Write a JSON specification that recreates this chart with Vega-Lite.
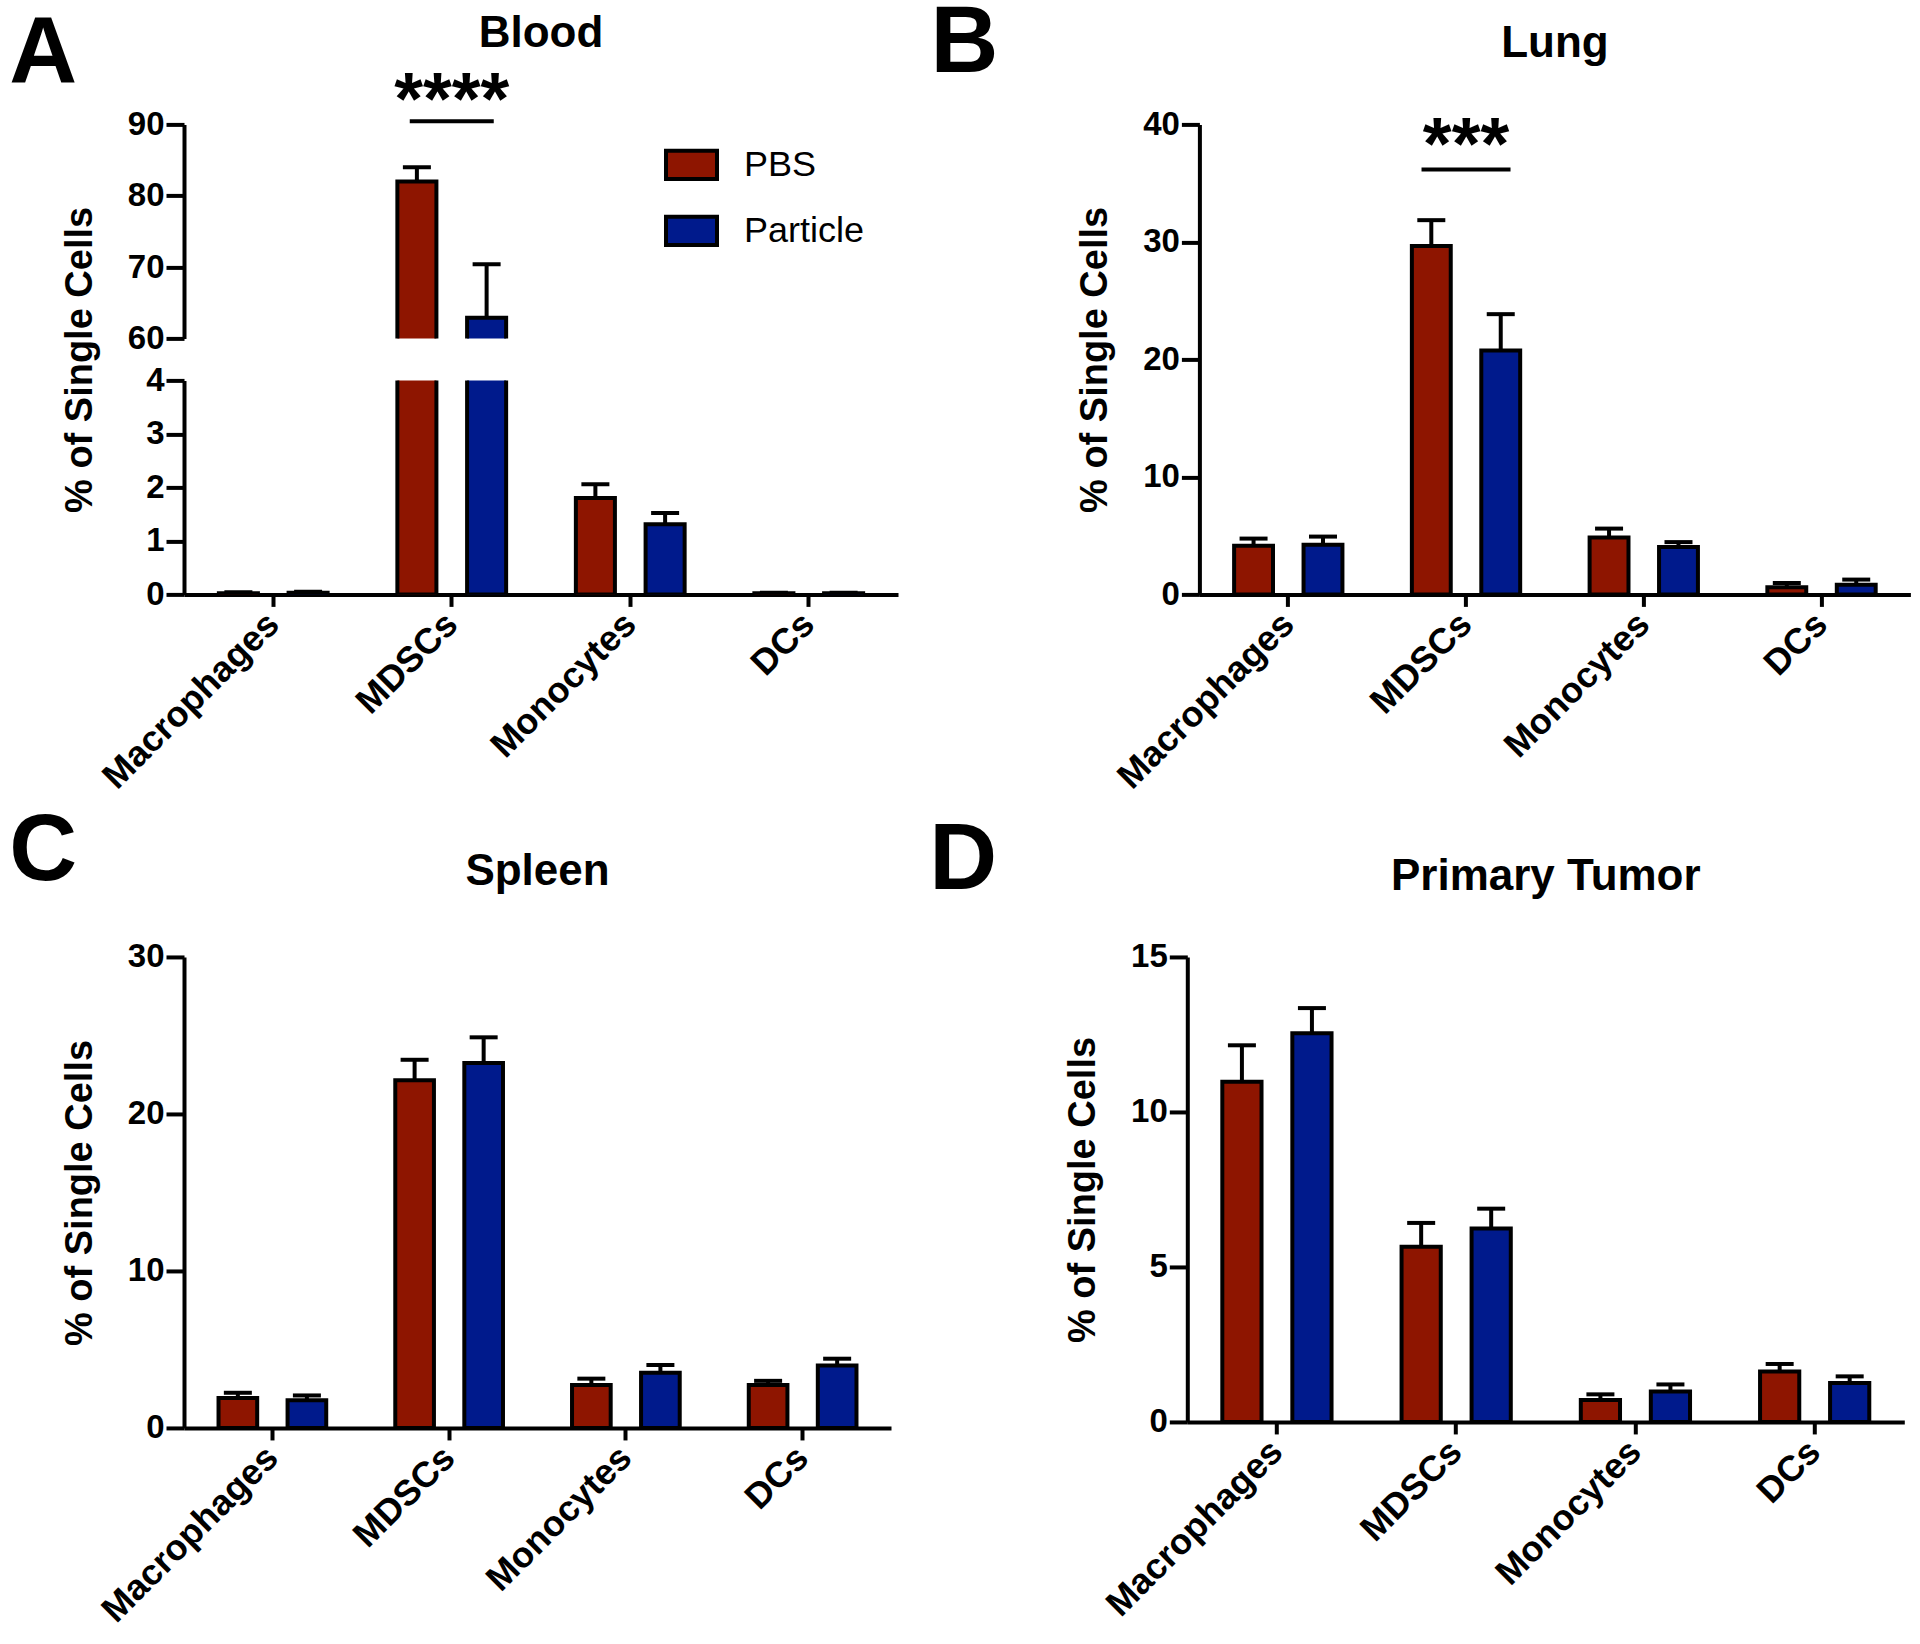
{
  "$schema": "https://vega.github.io/schema/vega-lite/v6.json",
  "padding": {"left": 9, "top": -2.6, "right": 0, "bottom": 0},
  "autosize": {"type": "pad"},
  "config": {
    "font": "Liberation Sans",
    "view": {"stroke": null},
    "axis": {"grid": false, "domainColor": "black", "domainWidth": 4, "tickColor": "black", "tickWidth": 4, "labelColor": "black", "labelFontSize": 33, "labelFontWeight": "bold", "titleColor": "black", "titleFontSize": 38, "titleFontWeight": "bold"},
    "axisY": {"tickSize": 18, "labelPadding": 2, "titleX": -93, "titleBaseline": "alphabetic", "format": "d"},
    "axisX": {"labelLimit": 0, "labelFontSize": 36},
    "title": {"fontSize": 44, "fontWeight": "bold", "color": "black"}
  },
  "datasets": {
    "blood": [
      {"cat": "Macrophages", "group": "PBS", "value": 0.02, "hi": 0.04},
      {"cat": "Macrophages", "group": "Particle", "value": 0.03, "hi": 0.05},
      {"cat": "MDSCs", "group": "PBS", "value": 82.0, "hi": 84.0},
      {"cat": "MDSCs", "group": "Particle", "value": 62.9, "hi": 70.4},
      {"cat": "Monocytes", "group": "PBS", "value": 1.8, "hi": 2.06},
      {"cat": "Monocytes", "group": "Particle", "value": 1.31, "hi": 1.52},
      {"cat": "DCs", "group": "PBS", "value": 0.02, "hi": 0.03},
      {"cat": "DCs", "group": "Particle", "value": 0.02, "hi": 0.03}
    ],
    "lung": [
      {"cat": "Macrophages", "group": "PBS", "value": 4.15, "hi": 4.75},
      {"cat": "Macrophages", "group": "Particle", "value": 4.23, "hi": 4.92},
      {"cat": "MDSCs", "group": "PBS", "value": 29.65, "hi": 31.85},
      {"cat": "MDSCs", "group": "Particle", "value": 20.75, "hi": 23.85},
      {"cat": "Monocytes", "group": "PBS", "value": 4.85, "hi": 5.6},
      {"cat": "Monocytes", "group": "Particle", "value": 4.03, "hi": 4.45},
      {"cat": "DCs", "group": "PBS", "value": 0.6, "hi": 0.97},
      {"cat": "DCs", "group": "Particle", "value": 0.82, "hi": 1.26}
    ],
    "spleen": [
      {"cat": "Macrophages", "group": "PBS", "value": 1.9, "hi": 2.24},
      {"cat": "Macrophages", "group": "Particle", "value": 1.77, "hi": 2.07},
      {"cat": "MDSCs", "group": "PBS", "value": 22.14, "hi": 23.45},
      {"cat": "MDSCs", "group": "Particle", "value": 23.24, "hi": 24.88},
      {"cat": "Monocytes", "group": "PBS", "value": 2.74, "hi": 3.14},
      {"cat": "Monocytes", "group": "Particle", "value": 3.51, "hi": 4.01},
      {"cat": "DCs", "group": "PBS", "value": 2.74, "hi": 3.0},
      {"cat": "DCs", "group": "Particle", "value": 3.98, "hi": 4.41}
    ],
    "tumor": [
      {"cat": "Macrophages", "group": "PBS", "value": 10.97, "hi": 12.15},
      {"cat": "Macrophages", "group": "Particle", "value": 12.54, "hi": 13.35},
      {"cat": "MDSCs", "group": "PBS", "value": 5.65, "hi": 6.42},
      {"cat": "MDSCs", "group": "Particle", "value": 6.24, "hi": 6.88},
      {"cat": "Monocytes", "group": "PBS", "value": 0.71, "hi": 0.89},
      {"cat": "Monocytes", "group": "Particle", "value": 0.98, "hi": 1.21},
      {"cat": "DCs", "group": "PBS", "value": 1.63, "hi": 1.87},
      {"cat": "DCs", "group": "Particle", "value": 1.26, "hi": 1.47}
    ]
  },
  "resolve": {"scale": {"x": "independent", "y": "independent", "xOffset": "independent", "color": "independent"}, "legend": {"color": "independent"}},
  "spacing": 9.55,
  "vconcat": [
    {
      "spacing": 32.4,
      "resolve": {"scale": {"x": "independent", "y": "independent", "xOffset": "independent", "color": "independent"}, "legend": {"color": "independent"}},
      "hconcat": [
        {
          "title": {"text": "A", "anchor": "start", "frame": "group", "fontSize": 94, "fontWeight": "bold", "color": "black", "dx": -174.7, "dy": 90.7, "offset": 0},
          "bounds": "flush",
          "spacing": 42,
          "resolve": {"scale": {"x": "independent", "y": "independent", "xOffset": "independent", "color": "independent"}, "legend": {"color": "independent"}},
          "vconcat": [
            {
              "width": 714, "height": 214,
              "title": {"text": "Blood", "offset": 8.8},
              "data": {"name": "blood"},
              "encoding": {"x": {"field": "cat", "type": "nominal", "sort": ["Macrophages", "MDSCs", "Monocytes", "DCs"], "scale": {"paddingInner": 0, "paddingOuter": 0}, "axis": null}},
              "layer": [
                {"mark": {"type": "rule", "strokeWidth": 4, "color": "black", "clip": true},
                 "encoding": {"xOffset": {"field": "group", "type": "nominal", "sort": ["PBS", "Particle"], "scale": {"paddingInner": 0.44, "paddingOuter": 0.5}},
                   "y": {"field": "value", "type": "quantitative", "title": null, "scale": {"domain": [60, 90], "nice": false, "zero": false}, "axis": {"values": [60, 70, 80, 90], "title": null}},
                   "y2": {"field": "hi"}}},
                {"mark": {"type": "bar", "stroke": "black", "strokeWidth": 4, "clip": true},
                 "encoding": {"xOffset": {"field": "group", "type": "nominal", "sort": ["PBS", "Particle"], "scale": {"paddingInner": 0.44, "paddingOuter": 0.5}},
                   "y": {"field": "value", "type": "quantitative", "title": null, "scale": {"domain": [60, 90], "nice": false, "zero": false}},
                   "y2": {"datum": 0},
                   "color": {"field": "group", "type": "nominal", "scale": {"domain": ["PBS", "Particle"], "range": ["#8E1500", "#001A8C"]},
                     "legend": {"orient": "none", "legendX": 480, "legendY": 13, "title": null, "symbolType": "M-1,-0.55L1,-0.55L1,0.55L-1,0.55Z", "symbolSize": 2601, "symbolStrokeWidth": 4, "symbolStrokeColor": "black", "symbolOpacity": 1, "labelFontSize": 36, "labelFontWeight": "normal", "labelColor": "black", "labelOffset": 25, "rowPadding": 16, "padding": 0}}}},
                {"mark": {"type": "tick", "orient": "horizontal", "size": 28, "thickness": 4, "color": "black", "opacity": 1, "clip": true},
                 "encoding": {"xOffset": {"field": "group", "type": "nominal", "sort": ["PBS", "Particle"], "scale": {"paddingInner": 0.44, "paddingOuter": 0.5}},
                   "y": {"field": "hi", "type": "quantitative", "title": null, "scale": {"domain": [60, 90], "nice": false, "zero": false}}}},
                {"data": {"values": [{"cat": "MDSCs", "y": 90.45}]},
                 "mark": {"type": "tick", "orient": "horizontal", "size": 84, "thickness": 4, "color": "black", "opacity": 1},
                 "encoding": {"y": {"field": "y", "type": "quantitative", "title": null, "scale": {"domain": [60, 90], "nice": false, "zero": false}}}},
                {"data": {"values": [{"cat": "MDSCs", "y": 90.05, "label": "****"}]},
                 "mark": {"type": "text", "fontSize": 74, "fontWeight": "bold", "baseline": "alphabetic", "color": "black"},
                 "encoding": {"y": {"field": "y", "type": "quantitative", "title": null, "scale": {"domain": [60, 90], "nice": false, "zero": false}}, "text": {"field": "label"}}}
              ]
            },
            {
              "width": 714, "height": 214,
              "data": {"name": "blood"},
              "encoding": {"x": {"field": "cat", "type": "nominal", "sort": ["Macrophages", "MDSCs", "Monocytes", "DCs"], "scale": {"paddingInner": 0, "paddingOuter": 0}, "title": null, "axis": {"labelAngle": -45, "labelAlign": "right", "labelBaseline": "middle", "labelPadding": 12, "tickSize": 12, "title": null}}},
              "layer": [
                {"mark": {"type": "rule", "strokeWidth": 4, "color": "black", "clip": true},
                 "encoding": {"xOffset": {"field": "group", "type": "nominal", "sort": ["PBS", "Particle"], "scale": {"paddingInner": 0.44, "paddingOuter": 0.5}},
                   "y": {"field": "value", "type": "quantitative", "title": "% of Single Cells", "scale": {"domain": [0, 4], "nice": false}, "axis": {"values": [0, 1, 2, 3, 4], "title": "% of Single Cells", "titleY": -21}},
                   "y2": {"field": "hi"}}},
                {"mark": {"type": "bar", "stroke": "black", "strokeWidth": 4, "clip": true},
                 "encoding": {"xOffset": {"field": "group", "type": "nominal", "sort": ["PBS", "Particle"], "scale": {"paddingInner": 0.44, "paddingOuter": 0.5}},
                   "y": {"field": "value", "type": "quantitative", "title": "% of Single Cells", "scale": {"domain": [0, 4], "nice": false}},
                   "color": {"field": "group", "type": "nominal", "scale": {"domain": ["PBS", "Particle"], "range": ["#8E1500", "#001A8C"]}, "legend": null}}},
                {"mark": {"type": "tick", "orient": "horizontal", "size": 28, "thickness": 4, "color": "black", "opacity": 1, "clip": true},
                 "encoding": {"xOffset": {"field": "group", "type": "nominal", "sort": ["PBS", "Particle"], "scale": {"paddingInner": 0.44, "paddingOuter": 0.5}},
                   "y": {"field": "hi", "type": "quantitative", "title": "% of Single Cells", "scale": {"domain": [0, 4], "nice": false}}}}
              ]
            }
          ]
        },
        {
          "title": {"text": "B", "anchor": "start", "frame": "group", "fontSize": 94, "fontWeight": "bold", "color": "black", "dx": -268.8, "dy": 70.5, "offset": 0},
          "resolve": {"scale": {"x": "independent", "y": "independent", "xOffset": "independent", "color": "independent"}, "legend": {"color": "independent"}},
          "vconcat": [
            {
              "width": 711, "height": 470,
              "title": {"text": "Lung", "offset": 42.4},
              "data": {"name": "lung"},
              "encoding": {"x": {"field": "cat", "type": "nominal", "sort": ["Macrophages", "MDSCs", "Monocytes", "DCs"], "scale": {"paddingInner": 0, "paddingOuter": 0}, "title": null, "axis": {"labelAngle": -45, "labelAlign": "right", "labelBaseline": "middle", "labelPadding": 12, "tickSize": 12, "title": null}}},
              "layer": [
                {"mark": {"type": "rule", "strokeWidth": 4, "color": "black"},
                 "encoding": {"xOffset": {"field": "group", "type": "nominal", "sort": ["PBS", "Particle"], "scale": {"paddingInner": 0.44, "paddingOuter": 0.5}},
                   "y": {"field": "value", "type": "quantitative", "title": "% of Single Cells", "scale": {"domain": [0, 40], "nice": false}, "axis": {"values": [0, 10, 20, 30, 40], "title": "% of Single Cells"}},
                   "y2": {"field": "hi"}}},
                {"mark": {"type": "bar", "stroke": "black", "strokeWidth": 4},
                 "encoding": {"xOffset": {"field": "group", "type": "nominal", "sort": ["PBS", "Particle"], "scale": {"paddingInner": 0.44, "paddingOuter": 0.5}},
                   "y": {"field": "value", "type": "quantitative", "title": "% of Single Cells", "scale": {"domain": [0, 40], "nice": false}},
                   "color": {"field": "group", "type": "nominal", "scale": {"domain": ["PBS", "Particle"], "range": ["#8E1500", "#001A8C"]}, "legend": null}}},
                {"mark": {"type": "tick", "orient": "horizontal", "size": 28, "thickness": 4, "color": "black", "opacity": 1},
                 "encoding": {"xOffset": {"field": "group", "type": "nominal", "sort": ["PBS", "Particle"], "scale": {"paddingInner": 0.44, "paddingOuter": 0.5}},
                   "y": {"field": "hi", "type": "quantitative", "title": "% of Single Cells", "scale": {"domain": [0, 40], "nice": false}}}},
                {"data": {"values": [{"cat": "MDSCs", "y": 36.17}]},
                 "mark": {"type": "tick", "orient": "horizontal", "size": 89, "thickness": 4, "color": "black", "opacity": 1},
                 "encoding": {"y": {"field": "y", "type": "quantitative", "title": "% of Single Cells", "scale": {"domain": [0, 40], "nice": false}}}},
                {"data": {"values": [{"cat": "MDSCs", "y": 36.17, "label": "***"}]},
                 "mark": {"type": "text", "fontSize": 74, "fontWeight": "bold", "baseline": "alphabetic", "color": "black"},
                 "encoding": {"y": {"field": "y", "type": "quantitative", "title": "% of Single Cells", "scale": {"domain": [0, 40], "nice": false}}, "text": {"field": "label"}}}
              ]
            }
          ]
        }
      ]
    },
    {
      "spacing": 38.3,
      "resolve": {"scale": {"x": "independent", "y": "independent", "xOffset": "independent", "color": "independent"}, "legend": {"color": "independent"}},
      "hconcat": [
        {
          "title": {"text": "C", "anchor": "start", "frame": "group", "fontSize": 94, "fontWeight": "bold", "color": "black", "dx": -174.7, "dy": 50.0, "offset": 0},
          "resolve": {"scale": {"x": "independent", "y": "independent", "xOffset": "independent", "color": "independent"}, "legend": {"color": "independent"}},
          "vconcat": [
            {
              "width": 707, "height": 471,
              "title": {"text": "Spleen", "offset": 46.9},
              "data": {"name": "spleen"},
              "encoding": {"x": {"field": "cat", "type": "nominal", "sort": ["Macrophages", "MDSCs", "Monocytes", "DCs"], "scale": {"paddingInner": 0, "paddingOuter": 0}, "title": null, "axis": {"labelAngle": -45, "labelAlign": "right", "labelBaseline": "middle", "labelPadding": 12, "tickSize": 12, "title": null}}},
              "layer": [
                {"mark": {"type": "rule", "strokeWidth": 4, "color": "black"},
                 "encoding": {"xOffset": {"field": "group", "type": "nominal", "sort": ["PBS", "Particle"], "scale": {"paddingInner": 0.44, "paddingOuter": 0.5}},
                   "y": {"field": "value", "type": "quantitative", "title": "% of Single Cells", "scale": {"domain": [0, 30], "nice": false}, "axis": {"values": [0, 10, 20, 30], "title": "% of Single Cells"}},
                   "y2": {"field": "hi"}}},
                {"mark": {"type": "bar", "stroke": "black", "strokeWidth": 4},
                 "encoding": {"xOffset": {"field": "group", "type": "nominal", "sort": ["PBS", "Particle"], "scale": {"paddingInner": 0.44, "paddingOuter": 0.5}},
                   "y": {"field": "value", "type": "quantitative", "title": "% of Single Cells", "scale": {"domain": [0, 30], "nice": false}},
                   "color": {"field": "group", "type": "nominal", "scale": {"domain": ["PBS", "Particle"], "range": ["#8E1500", "#001A8C"]}, "legend": null}}},
                {"mark": {"type": "tick", "orient": "horizontal", "size": 28, "thickness": 4, "color": "black", "opacity": 1},
                 "encoding": {"xOffset": {"field": "group", "type": "nominal", "sort": ["PBS", "Particle"], "scale": {"paddingInner": 0.44, "paddingOuter": 0.5}},
                   "y": {"field": "hi", "type": "quantitative", "title": "% of Single Cells", "scale": {"domain": [0, 30], "nice": false}}}}
              ]
            }
          ]
        },
        {
          "title": {"text": "D", "anchor": "start", "frame": "group", "fontSize": 94, "fontWeight": "bold", "color": "black", "dx": -258, "dy": 53.7, "offset": 0},
          "resolve": {"scale": {"x": "independent", "y": "independent", "xOffset": "independent", "color": "independent"}, "legend": {"color": "independent"}},
          "vconcat": [
            {
              "width": 717, "height": 465,
              "title": {"text": "Primary Tumor", "offset": 42.0},
              "data": {"name": "tumor"},
              "encoding": {"x": {"field": "cat", "type": "nominal", "sort": ["Macrophages", "MDSCs", "Monocytes", "DCs"], "scale": {"paddingInner": 0, "paddingOuter": 0}, "title": null, "axis": {"labelAngle": -45, "labelAlign": "right", "labelBaseline": "middle", "labelPadding": 12, "tickSize": 12, "title": null}}},
              "layer": [
                {"mark": {"type": "rule", "strokeWidth": 4, "color": "black"},
                 "encoding": {"xOffset": {"field": "group", "type": "nominal", "sort": ["PBS", "Particle"], "scale": {"paddingInner": 0.44, "paddingOuter": 0.5}},
                   "y": {"field": "value", "type": "quantitative", "title": "% of Single Cells", "scale": {"domain": [0, 15], "nice": false}, "axis": {"values": [0, 5, 10, 15], "title": "% of Single Cells"}},
                   "y2": {"field": "hi"}}},
                {"mark": {"type": "bar", "stroke": "black", "strokeWidth": 4},
                 "encoding": {"xOffset": {"field": "group", "type": "nominal", "sort": ["PBS", "Particle"], "scale": {"paddingInner": 0.44, "paddingOuter": 0.5}},
                   "y": {"field": "value", "type": "quantitative", "title": "% of Single Cells", "scale": {"domain": [0, 15], "nice": false}},
                   "color": {"field": "group", "type": "nominal", "scale": {"domain": ["PBS", "Particle"], "range": ["#8E1500", "#001A8C"]}, "legend": null}}},
                {"mark": {"type": "tick", "orient": "horizontal", "size": 28, "thickness": 4, "color": "black", "opacity": 1},
                 "encoding": {"xOffset": {"field": "group", "type": "nominal", "sort": ["PBS", "Particle"], "scale": {"paddingInner": 0.44, "paddingOuter": 0.5}},
                   "y": {"field": "hi", "type": "quantitative", "title": "% of Single Cells", "scale": {"domain": [0, 15], "nice": false}}}}
              ]
            }
          ]
        }
      ]
    }
  ]
}
